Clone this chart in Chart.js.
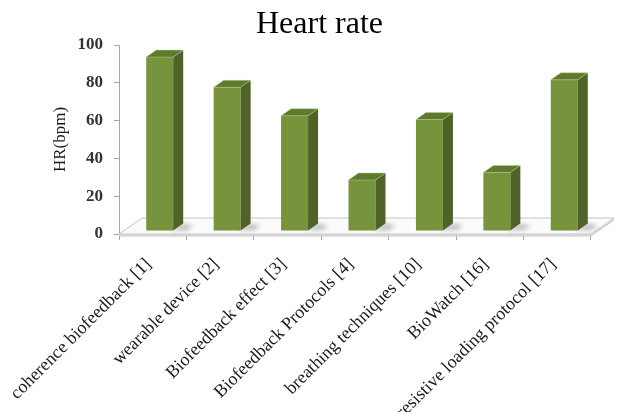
<!DOCTYPE html>
<html>
<head>
<meta charset="utf-8">
<script src="https://cdn.jsdelivr.net/npm/chart.js@4.4.1/dist/chart.umd.min.js"></script>
<style>
  html, body { margin: 0; padding: 0; background: #ffffff; overflow: hidden; }
  #wrap { width: 619px; height: 412px; }
</style>
</head>
<body>
<div id="wrap"><canvas id="c" width="619" height="412"></canvas></div>
<script>
// Studies compared and their reported heart rate (bpm)
const categories = [
  'coherence biofeedback [1]',
  'wearable device [2]',
  'Biofeedback effect [3]',
  'Biofeedback Protocols [4]',
  'breathing techniques [10]',
  'BioWatch [16]',
  'resistive loading protocol [17]'
];
const heartRate = [92, 76, 61, 27, 59, 31, 80];
const yTicks = [0, 20, 40, 60, 80, 100];
const chartTitle = 'Heart rate';

// 3D look: column depth, floor depth, and where the columns sit on the floor
const COL_DEPTH = { x: 10, y: -7 };
const FLOOR_DEPTH = { x: 23, y: -16 };
const COL_SHIFT = { x: 7, y: -3 };

const FRONT = '#77933C';
const SIDE = '#4F6228';
const TOP = '#5F7A2E';
const SERIF = '"Liberation Serif", "Times New Roman", serif';

function barRects(chart) {
  return chart.getDatasetMeta(0).data.map(b => {
    const p = b.getProps(['x', 'y', 'base', 'width'], true);
    return { l: p.x - p.width / 2, r: p.x + p.width / 2, t: p.y, b: p.base };
  });
}

// Chart heading, centred a little right of the canvas middle
const heading = {
  id: 'heading',
  afterDraw(chart) {
    const { ctx } = chart;
    ctx.save();
    ctx.font = '32px ' + SERIF;
    ctx.fillStyle = '#000000';
    ctx.textAlign = 'center';
    ctx.textBaseline = 'alphabetic';
    ctx.fillText(chartTitle, chart.width / 2 + 10, 33);
    ctx.restore();
  }
};

const column3d = {
  id: 'column3d',
  beforeDatasetsDraw(chart) {
    const { ctx, chartArea: a, scales: { y } } = chart;
    const y0 = y.getPixelForValue(0);
    ctx.save();
    // floor slab: thin front edge
    ctx.beginPath();
    ctx.moveTo(a.left, y0);
    ctx.lineTo(a.right, y0);
    ctx.lineTo(a.right + FLOOR_DEPTH.x, y0 + FLOOR_DEPTH.y);
    ctx.lineTo(a.right + FLOOR_DEPTH.x, y0 + FLOOR_DEPTH.y + 2);
    ctx.lineTo(a.right, y0 + 2);
    ctx.lineTo(a.left, y0 + 2);
    ctx.closePath();
    ctx.fillStyle = '#e6e6e6';
    ctx.fill();
    // floor top face
    ctx.beginPath();
    ctx.moveTo(a.left, y0);
    ctx.lineTo(a.right, y0);
    ctx.lineTo(a.right + FLOOR_DEPTH.x, y0 + FLOOR_DEPTH.y);
    ctx.lineTo(a.left + FLOOR_DEPTH.x, y0 + FLOOR_DEPTH.y);
    ctx.closePath();
    ctx.fillStyle = '#fbfbfb';
    ctx.fill();
    ctx.strokeStyle = '#c4c4c4';
    ctx.lineWidth = 1;
    ctx.stroke();
    ctx.beginPath();
    ctx.moveTo(a.left, y0 + 2);
    ctx.lineTo(a.right, y0 + 2);
    ctx.lineTo(a.right + FLOOR_DEPTH.x, y0 + FLOOR_DEPTH.y + 2);
    ctx.stroke();
    // soft shadows cast to the right of each column
    ctx.filter = 'blur(2px)';
    ctx.fillStyle = 'rgba(0,0,0,0.22)';
    barRects(chart).forEach(r => {
      const rr = r.r + COL_SHIFT.x, bb = r.b + COL_SHIFT.y;
      ctx.beginPath();
      ctx.moveTo(rr - 4, bb);
      ctx.lineTo(rr + 14, bb);
      ctx.lineTo(rr + 20, bb - 5);
      ctx.lineTo(rr + COL_DEPTH.x, bb + COL_DEPTH.y);
      ctx.closePath();
      ctx.fill();
    });
    ctx.filter = 'none';
    ctx.restore();
    // columns stand slightly back on the floor
    ctx.save();
    ctx.translate(COL_SHIFT.x, COL_SHIFT.y);
  },
  afterDatasetsDraw(chart) {
    const { ctx } = chart;
    barRects(chart).forEach(r => {
      // right side face
      ctx.beginPath();
      ctx.moveTo(r.r, r.t);
      ctx.lineTo(r.r + COL_DEPTH.x, r.t + COL_DEPTH.y);
      ctx.lineTo(r.r + COL_DEPTH.x, r.b + COL_DEPTH.y);
      ctx.lineTo(r.r, r.b);
      ctx.closePath();
      ctx.fillStyle = SIDE;
      ctx.fill();
      // top face
      ctx.beginPath();
      ctx.moveTo(r.l, r.t);
      ctx.lineTo(r.l + COL_DEPTH.x, r.t + COL_DEPTH.y);
      ctx.lineTo(r.r + COL_DEPTH.x, r.t + COL_DEPTH.y);
      ctx.lineTo(r.r, r.t);
      ctx.closePath();
      ctx.fillStyle = TOP;
      ctx.fill();
      ctx.strokeStyle = 'rgba(190,210,150,0.6)';
      ctx.lineWidth = 0.8;
      ctx.stroke();
    });
    ctx.restore();
  }
};

new Chart(document.getElementById('c'), {
  type: 'bar',
  data: {
    labels: categories,
    datasets: [{
      label: 'HR(bpm)',
      data: heartRate,
      backgroundColor: FRONT,
      borderWidth: 0,
      categoryPercentage: 1.0,
      barPercentage: 0.4
    }]
  },
  options: {
    responsive: false,
    animation: false,
    layout: { padding: { left: 0, right: 28, top: 45, bottom: 0 } },
    plugins: {
      legend: { display: false },
      tooltip: { enabled: false },
      title: { display: false }
    },
    scales: {
      x: {
        grid: { display: true, drawOnChartArea: false, drawTicks: true, tickLength: 6, offset: true, color: '#a6a6a6' },
        border: { display: true, color: '#a6a6a6' },
        ticks: {
          color: '#1a1a1a',
          autoSkip: false,
          maxRotation: 45,
          minRotation: 45,
          padding: 14,
          labelOffset: -4,
          font: { family: SERIF, size: 18 }
        },
        afterFit(s) { s.height = 178; s.paddingLeft = 0; s.paddingRight = 0; }
      },
      y: {
        min: 0,
        max: 100,
        afterBuildTicks(s) { s.ticks = yTicks.map(v => ({ value: v })); },
        grid: { display: true, drawOnChartArea: false, drawTicks: true, tickLength: 5, color: '#a6a6a6' },
        border: { display: true, color: '#a6a6a6' },
        ticks: {
          color: '#333333',
          padding: 11,
          font: { family: SERIF, size: 17, weight: 'bold' }
        },
        title: {
          display: true,
          text: 'HR(bpm)',
          color: '#1a1a1a',
          font: { family: SERIF, size: 17 },
          padding: { top: 50, bottom: 0 }
        },
        afterFit(s) { s.width = 119; s.paddingTop = 0; s.paddingBottom = 0; }
      }
    }
  },
  plugins: [column3d, heading]
});
</script>
</body>
</html>
